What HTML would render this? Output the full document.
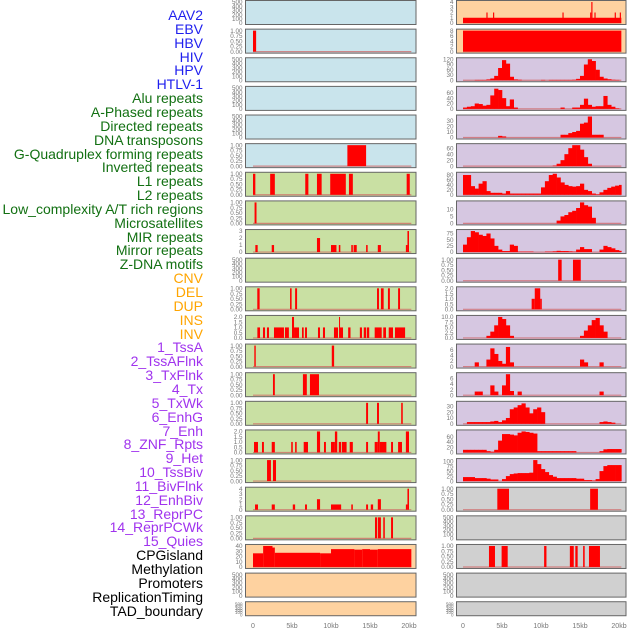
<!DOCTYPE html>
<html><head><meta charset="utf-8">
<style>
body{margin:0;background:#fff;}
#c{position:relative;width:630px;height:630px;overflow:hidden;font-family:"Liberation Sans",sans-serif;}
.lab{position:absolute;right:427px;font-size:14px;line-height:14px;white-space:nowrap;}
</style></head>
<body>
<div id="c">
<svg id="s" width="630" height="630" style="position:absolute;left:0;top:0"></svg>
</div>
<script>
const trackNames=["AAV2","EBV","HBV","HIV","HPV","HTLV-1","Alu repeats","A-Phased repeats","Directed repeats","DNA transposons","G-Quadruplex forming repeats","Inverted repeats","L1 repeats","L2 repeats","Low_complexity A/T rich regions","Microsatellites","MIR repeats","Mirror repeats","Z-DNA motifs","CNV","DEL","DUP","INS","INV","1_TssA","2_TssAFlnk","3_TxFlnk","4_Tx","5_TxWk","6_EnhG","7_Enh","8_ZNF_Rpts","9_Het","10_TssBiv","11_BivFlnk","12_EnhBiv","13_ReprPC","14_ReprPCWk","15_Quies","CPGisland","Methylation","Promoters","ReplicationTiming","TAD_boundary"];
const trackGroups=["v","v","v","v","v","v","r","r","r","r","r","r","r","r","r","r","r","r","r","c","c","c","c","c","h","h","h","h","h","h","h","h","h","h","h","h","h","h","h","k","k","k","k","k"];
const xTickLabels=["0","5kb","10kb","15kb","20kb"];
const xTickValues=[0,5,10,15,20];
const T500=["0","100","200","300","400","500"],T1=["0.00","0.25","0.50","0.75","1.00"],T2=["0.0","0.5","1.0","1.5","2.0"],T3=["0","1","2","3"],T4=["0","1","2","3","4"],T40=["0","10","20","30","40"];
const leftYmax=[500,1,500,500,500,1,1,1,3,500,1,2,1,1,1,2,1,4,1,40,500,500];
const leftTicks=[T500,T1,T500,T500,T500,T1,T1,T1,T3,T500,T1,T2,T1,T1,T1,T2,T1,T4,T1,T40,T500,T500];
const leftBg=["b","b","b","b","b","b","g","g","g","g","g","g","g","g","g","g","g","g","g","o","o","o"];
const leftBars=[
[],
[[0,0.4,1]],
[],[],[],
[[12.1,14.5,1]],
[[0,0.3,1],[2.2,2.8,1],[6.7,7.1,1],[8.2,8.8,1],[9.9,11.9,1],[12.3,12.8,1],[19.7,20.1,1]],
[[0.2,0.45,1]],
[[0.3,0.6,1],[2.4,2.7,1],[8.2,8.6,2],[10,10.7,1],[11,11.2,1],[12.6,12.8,1],[12.9,13.3,1],[14.5,14.7,1],[16,16.4,1],[19.6,19.8,1],[19.8,20,3]],
[],
[[0.55,0.85,1],[4.75,4.95,1],[5.4,5.65,1],[15.9,16.15,1],[16.4,16.75,1],[17.3,17.55,1],[18.6,18.85,1]],
[[0.56,0.9,1],[1.28,1.54,1],[1.79,2.05,1],[2.69,3.97,1],[4.1,4.6,1],[5.0,5.26,2],[5.26,5.9,1],[6.28,6.5,1],[6.67,6.92,1],[8.33,8.59,1],[8.97,9.23,1],[10.38,10.9,1],[11.03,11.15,2],[11.15,11.54,1],[12.2,12.5,1],[13.7,13.97,1],[14.2,14.5,1],[14.6,14.9,1],[15.6,16.5,1],[16.7,17.05,1],[17.4,17.95,1],[18.2,19.5,1]],
[[0.17,0.35,1],[10.1,10.4,1]],
[[2.56,2.8,1],[6.4,6.9,1],[7.3,8.46,1]],
[[14.5,14.75,1],[15.9,16.15,1],[19.0,19.2,1]],
[[0.13,0.64,1],[1.15,1.4,1],[2.4,2.8,1],[4.9,5.1,1],[5.4,5.6,1],[6.5,7.05,1],[8.2,8.6,2],[9.1,9.35,1],[10,10.5,1],[10.5,10.8,2],[11,11.3,1],[11.4,12,1],[12.4,12.8,1],[14.5,14.75,1],[15.6,16,1],[16,16.25,2],[16.25,17.1,1],[17.7,17.95,1],[18.6,19.1,1],[19.6,20,2]],
[[1.8,2.3,1],[2.56,2.95,1]],
[[0.26,0.64,1],[2.4,2.8,1],[5.1,5.4,1],[6.67,6.92,1],[8.2,8.6,2],[10,11.3,1],[12.6,12.8,1],[14.5,14.75,1],[15.1,15.4,1],[16,16.4,2],[19.6,19.8,1],[19.8,20,4]],
[[15.64,15.9,1],[16,16.4,1],[16.7,16.9,1],[17.7,17.95,1]],
[[0,1.3,26],[1.3,2.5,40],[2.5,2.8,37],[2.8,8.6,27],[8.6,10,26],[10,13,34],[13,14,33],[14,15,34],[15,16,33],[16,20.3,34]],
[],[]
];
const rightYmax=[4,8,120,78,38,70,85,15,85,1,2,10,7.5,7.5,36,80,105,1,500,1,500,500];
const rightTicks=[T4,["0","2","4","6","8"],["0","30","60","90","120"],["0","20","40","60"],["0","10","20","30"],["0","20","40","60"],["0","20","40","60","80"],["0","5","10"],["0","25","50","75"],T1,T2,["0.0","2.5","5.0","7.5","10.0"],["0","2","4","6"],["0","2","4","6"],["0","10","20","30"],["0","20","40","60"],["0","25","50","75","100"],T1,T500,T1,T500,T500];
const rightBg=["o","o","p","p","p","p","p","p","p","p","p","p","p","p","p","p","p","y","y","y","y","y"];
const rightBars=[
[[0,20.3,1],[3.0,3.15,2],[3.85,4.0,2],[12.75,12.9,2],[16.3,16.45,2],[16.45,16.6,4],[16.85,17.0,2],[19.45,19.6,2],[20.1,20.25,2]],
[[0,20.3,8]],
null,null,null,null,null,null,null,
[[12.2,12.65,1],[14.1,15.1,1]],
[[8.8,9.2,1],[9.2,9.9,2],[9.9,10.1,1]],
null,null,null,null,null,null,
[[4.4,5.9,1],[16.3,17.3,1]],
[],
[[3.33,4.1,1],[4.95,5.73,1],[10.4,10.7,1],[13.7,14.2,1],[14.4,14.7,1],[15.4,15.6,1],[16.15,17.56,1]],
[],[]
];
const prof2=[0,0,0,2,2,2,5,10,25,70,115,95,20,5,3,0,0,0,0,0,2,0,2,2,2,2,2,2,3,8,25,90,120,110,60,20,10,6,3,2,0];
const prof3=[5,8,10,20,18,12,15,50,75,70,40,10,35,5,0,0,0,0,0,0,0,0,0,0,0,5,0,0,5,5,15,38,15,8,10,10,48,15,8,2,0];
const prof4=[0,0,0,0,0,0,0,0,0,3,2,0,0,0,0,0,0,0,0,0,0,0,0,0,0,5,5,8,10,12,25,27,38,5,5,5,0,0,0,0,0];
const prof5=[0,0,0,0,0,0,0,0,0,0,0,0,0,0,0,0,0,0,0,0,0,0,0,2,8,20,40,60,70,70,55,30,8,0,0,0,0,0,0,0,0];
const prof6=[80,80,35,25,45,55,15,8,8,8,5,15,5,5,5,5,5,5,5,5,30,55,80,85,70,50,40,35,33,35,45,20,15,5,2,10,20,28,33,37,40];
const prof7=[0,0,0,0,0,0,0,0,0,0,0,0,0,0,0,0,0,0,0,0,0,0,0,0,2,5,6,8,9,11,15,13,12,4,0,0,0,0,0,0,0];
const prof8=[30,60,85,80,70,65,75,55,25,10,4,4,30,25,2,2,2,2,0,0,0,2,2,3,5,4,4,3,2,10,20,12,12,0,0,10,25,20,15,8,5];
const prof11=[0,0,0,0,0,0,1,3,6,10,9,6,1,0,0,0,0,0,0,0,0,0,0,0,0,0,0,0,0,0,1,3.5,6,8.5,9.5,6,3,0,0,0,0];
const prof12=[0,0,0,1.5,0,0,2.5,6.5,4.5,2,1,7,1.5,0,0,0,0,0,0,0,0,0,0,0,0,0,0,0,0,0,2.5,1.5,0,0,0,1.5,0,0,0,0,0];
const prof13=[0,0,0,1.3,1.3,0,0,3.5,1.3,0,3.5,7.5,1.5,0,1.3,0,0,0,0,0,0,0,0,0,0,0,0,0,0,0,0,0,0,0,0,1.3,0,0,0,0,0];
const prof14=[0,3,3,3,3,3,3,4,5,3,6,10,25,28,32,35,28,18,25,28,20,0,0,0,0,0,0,0,0,0,0,0,0,0,0,3,4,3,2,0,0];
const prof15=[10,10,10,10,10,10,5,3,10,45,70,70,68,65,75,80,78,75,72,5,5,5,5,5,5,5,5,5,5,0,0,0,0,0,0,5,12,13,13,13,13];
const prof16=[20,20,20,15,15,15,12,8,8,0,10,25,35,38,40,40,40,42,105,85,60,45,30,22,15,15,15,15,15,12,12,5,5,3,10,50,75,80,80,80,80];
const rightProfiles={2:prof2,3:prof3,4:prof4,5:prof5,6:prof6,7:prof7,8:prof8,11:prof11,12:prof12,13:prof13,14:prof14,15:prof15,16:prof16};

const NS="http://www.w3.org/2000/svg";
const svg=document.getElementById('s');
const BG={b:"#c9e4ec",g:"#c9e0a3",o:"#fed2a0",p:"#d6c7e1",y:"#d0d0d0"};
const COL={v:"#1f1fee",r:"#127012",c:"#ffa500",h:"#a033ee",k:"#000"};
function el(t,a){const e=document.createElementNS(NS,t);for(const k in a)e.setAttribute(k,a[k]);return e;}
function rowTop(i){return i*28.63+0.5;}
function rowH(i){return i===21?14:24;}

const c=document.getElementById('c');
trackNames.forEach((n,k)=>{
  const d=document.createElement('div');
  d.className='lab';
  d.textContent=n;
  d.style.top=(14+k*13.85-6)+'px';
  d.style.color=COL[trackGroups[k]];
  
  
  c.appendChild(d);
});

function drawPanel(side,i,ymax,ticks,bg,bars,prof){
  const x0=side==='L'?245.5:456.5, x1=side==='L'?416:626;
  const zero=side==='L'?253:463;
  const xs=kb=>zero+kb*7.8;
  const top=rowTop(i),h=rowH(i);
  const ys=v=>top+h-1.5-(v/ymax)*(h-3);
  const g=el('g',{});
  
  
  g.appendChild(el('rect',{x:x0,y:top,width:x1-x0,height:h,fill:BG[bg],stroke:'#666','stroke-width':1}));
  const fs=h<20?4.5:6.3;
  ticks.forEach(t=>{
    const tx=el('text',{x:x0-3,y:ys(parseFloat(t))+2.2,'font-size':fs,fill:'#777','text-anchor':'end','font-family':'Liberation Sans, sans-serif'});
    tx.textContent=t;
    
    
    g.appendChild(tx);
  });
  const hasData=(bars&&bars.length)||prof;
  if(hasData){
    const bl=el('line',{x1:xs(0),x2:xs(20.3),y1:ys(0),y2:ys(0),stroke:'#d06060','stroke-width':1.2,opacity:0.7});
    
    
    g.appendChild(bl);
  }
  if(bars) bars.forEach(b=>{
    const r=el('rect',{x:xs(b[0]),y:ys(b[2]),width:Math.max(1,xs(b[1])-xs(b[0])),height:ys(0)-ys(b[2]),fill:'#ff0000'});
    
    
    g.appendChild(r);
  });
  if(prof) prof.forEach((v,j)=>{
    if(!v)return;
    const s=j*0.5,e=Math.min(20.3,s+0.5);
    const r=el('rect',{x:xs(s),y:ys(v),width:xs(e)-xs(s)+0.3,height:ys(0)-ys(v),fill:'#ff0000'});
    
    
    g.appendChild(r);
  });
  svg.appendChild(g);
}
for(let i=0;i<22;i++){
  drawPanel('L',i,leftYmax[i],leftTicks[i],leftBg[i],leftBars[i],null);
  drawPanel('R',i,rightYmax[i],rightTicks[i],rightBg[i],rightBars[i],rightProfiles[i]||null);
}
['L','R'].forEach(side=>{
  const zero=side==='L'?253:463;
  xTickValues.forEach((v,j)=>{
    const t=el('text',{x:zero+v*7.8,y:628,'font-size':7,fill:'#777','text-anchor':'middle','font-family':'Liberation Sans, sans-serif'});
    t.textContent=xTickLabels[j];
    
    
    svg.appendChild(t);
  });
});
</script>
</body></html>
